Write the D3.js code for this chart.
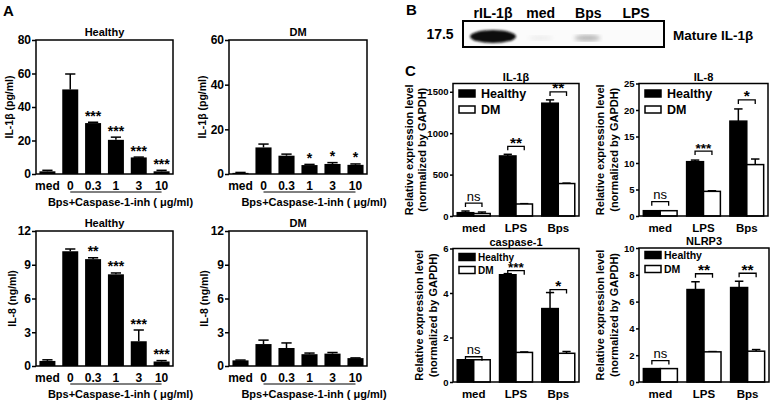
<!DOCTYPE html>
<html><head><meta charset="utf-8">
<script src="https://cdn.jsdelivr.net/npm/d3@7"></script>
<style>body{margin:0;background:#fff}</style>
</head><body>
<svg id="c" width="774" height="403" xmlns="http://www.w3.org/2000/svg"></svg>
<script>
// ---------- DATA ----------
const doseCats = ["med", "0", "0.3", "1", "3", "10"];
const doseLabel = "Bps+Caspase-1-inh ( \u03bcg/ml)";

const il1bHealthy = [1.6, 50.5, 30.4, 20.4, 9.9, 1.6];
const il1bHealthyErr = [0.6, 9.2, 0.5, 1.6, 0.2, 0.6];
const il1bHealthySig = ["", "", "***", "***", "***", "***"];
const il1bDM = [0.5, 11.9, 8.2, 4.0, 4.5, 4.1];
const il1bDMErr = [0.2, 1.5, 0.7, 0.3, 0.6, 0.4];
const il1bDMSig = ["", "", "", "*", "*", "*"];
const il8Healthy = [0.45, 10.2, 9.5, 8.15, 2.2, 0.4];
const il8HealthyErr = [0.1, 0.2, 0.12, 0.12, 1.0, 0.08];
const il8HealthySig = ["", "", "**", "***", "***", "***"];
const il8DM = [0.5, 1.95, 1.6, 1.05, 1.1, 0.7];
const il8DMErr = [0.03, 0.35, 0.45, 0.1, 0.1, 0.02];

const yTicksIl1bHealthy = [0, 20, 40, 60, 80];
const yTicksIl1bDM = [0, 20, 40, 60];
const yTicksIl8 = [0, 3, 6, 9, 12];

const blotLanes = ["rIL-1\u03b2", "med", "Bps", "LPS"];

const stimGroups = ["med", "LPS", "Bps"];
const seriesNames = ["Healthy", "DM"];
const cIl1bHealthy = [40, 725, 1362];
const cIl1bHealthyErr = [20, 20, 40];
const cIl1bDM = [30, 145, 392];
const cIl1bDMErr = [18, 4, 5];
const cIl1bSig = ["ns", "**", "**"];
const cIl8Healthy = [1.0, 10.25, 17.9];
const cIl8HealthyErr = [0, 0.3, 2.3];
const cIl8DM = [1.0, 4.65, 9.7];
const cIl8DMErr = [0, 0.12, 1.05];
const cIl8Sig = ["ns", "***", "*"];
const cCasp1Healthy = [1.0, 4.82, 3.3];
const cCasp1HealthyErr = [0, 0.05, 0.72];
const cCasp1DM = [1.0, 1.33, 1.29];
const cCasp1DMErr = [0, 0.02, 0.08];
const cCasp1Sig = ["ns", "***", "*"];
const cNlrp3Healthy = [1.0, 6.9, 7.05];
const cNlrp3HealthyErr = [0, 0.58, 0.47];
const cNlrp3DM = [1.0, 2.25, 2.3];
const cNlrp3DMErr = [0, 0.02, 0.12];
const cNlrp3Sig = ["ns", "**", "**"];

const yTicksCIl1b = [0, 500, 1000, 1500];
const yTicksCIl8 = [0, 5, 10, 15, 20, 25];
const yTicksCCasp1 = [0, 2, 4, 6];
const yTicksCNlrp3 = [0, 2, 4, 6, 8, 10];

// ---------- DRAWING ----------
const FF = "'Liberation Sans', Arial, Helvetica, sans-serif";
const svg = d3.select("#c");
svg.append("rect").attr("width", 774).attr("height", 403).attr("fill", "#fff");

function txt(g, x, y, s, size, opts = {}) {
  return g.append("text").attr("x", x).attr("y", y).text(s)
    .attr("font-family", FF).attr("font-size", size)
    .attr("font-weight", opts.weight || "bold")
    .attr("text-anchor", opts.anchor || "middle")
    .attr("fill", "#000");
}

function styleAxis(ax, size) {
  ax.select(".domain").remove();
  ax.selectAll("line").attr("stroke", "#000").attr("stroke-width", 1.5);
  ax.selectAll("text").attr("font-family", FF).attr("font-size", size)
    .attr("font-weight", "bold").attr("fill", "#000");
}

function drawA(o) {
  const g = svg.append("g");
  const x = d3.scaleBand().domain(doseCats).range([o.x0, o.x1]).paddingInner(0.3).paddingOuter(0.15);
  const y = d3.scaleLinear().domain([0, o.max]).range([o.y1, o.y0]);
  const bw = x.bandwidth();
  const rows = doseCats.map((c, i) => ({ c, v: o.vals[i], e: o.errs[i], s: o.sig[i] }));
  g.selectAll("line.eb").data(rows).join("line")
    .attr("x1", d => x(d.c) + bw / 2).attr("x2", d => x(d.c) + bw / 2)
    .attr("y1", d => y(d.v)).attr("y2", d => y(d.v + d.e))
    .attr("stroke", "#000").attr("stroke-width", 1.5);
  g.selectAll("line.cap").data(rows).join("line")
    .attr("x1", d => x(d.c) + bw / 2 - bw * 0.32).attr("x2", d => x(d.c) + bw / 2 + bw * 0.32)
    .attr("y1", d => y(d.v + d.e)).attr("y2", d => y(d.v + d.e))
    .attr("stroke", "#000").attr("stroke-width", 1.5);
  g.selectAll("rect.bar").data(rows).join("rect")
    .attr("x", d => x(d.c)).attr("width", bw)
    .attr("y", d => y(d.v)).attr("height", d => y(0) - y(d.v))
    .attr("fill", "#000");
  rows.forEach(d => { if (d.s) txt(g, x(d.c) + bw / 2, y(d.v + d.e) - 1.5, d.s, 14); });
  const ax = g.append("g").attr("transform", `translate(${o.x0},0)`)
    .call(d3.axisLeft(y).tickValues(o.ticks).tickFormat(d3.format("d")).tickSize(4).tickPadding(1));
  styleAxis(ax, 12);
  g.append("rect").attr("x", o.x0).attr("y", o.y0).attr("width", o.x1 - o.x0).attr("height", o.y1 - o.y0)
    .attr("fill", "none").attr("stroke", "#000").attr("stroke-width", 1.5);
  doseCats.forEach(c => txt(g, x(c) + bw / 2, o.y1 + 15.5, c, 12));
  g.append("line").attr("x1", x("0") + bw / 2).attr("x2", x("10") + bw / 2)
    .attr("y1", o.y1 + 18).attr("y2", o.y1 + 18).attr("stroke", "#000").attr("stroke-width", 1);
  txt(g, (o.x0 + o.x1) / 2 + 16, o.y1 + 32, doseLabel, 11);
  txt(g, (o.x0 + o.x1) / 2, o.y0 - 4.5, o.title, 11);
  g.append("text").attr("transform", `translate(${o.ylx},${(o.y0 + o.y1) / 2}) rotate(-90)`)
    .attr("text-anchor", "middle").attr("dominant-baseline", "central")
    .attr("font-family", FF).attr("font-size", 10.5).attr("font-weight", "bold").text(o.ylabel);
}

drawA({ x0: 36, x1: 173, y0: 40, y1: 174, max: 80, ticks: yTicksIl1bHealthy, vals: il1bHealthy, errs: il1bHealthyErr, sig: il1bHealthySig, title: "Healthy", ylabel: "IL-1\u03b2 (pg/ml)", ylx: 9 });
drawA({ x0: 229, x1: 367, y0: 40, y1: 174, max: 60, ticks: yTicksIl1bDM, vals: il1bDM, errs: il1bDMErr, sig: il1bDMSig, title: "DM", ylabel: "IL-1\u03b2 (pg/ml)", ylx: 202 });
drawA({ x0: 36, x1: 173, y0: 231, y1: 366, max: 12, ticks: yTicksIl8, vals: il8Healthy, errs: il8HealthyErr, sig: il8HealthySig, title: "Healthy", ylabel: "IL-8 (ng/ml)", ylx: 12 });
drawA({ x0: 229, x1: 367, y0: 231, y1: 366, max: 12, ticks: yTicksIl8, vals: il8DM, errs: il8DMErr, sig: ["", "", "", "", "", ""], title: "DM", ylabel: "IL-8 (ng/ml)", ylx: 204 });

txt(svg, 3, 16, "A", 15, { anchor: "start" });
txt(svg, 406, 15, "B", 15, { anchor: "start" });
txt(svg, 405, 76, "C", 15, { anchor: "start" });

// ---------- Panel B (blot) ----------
(function () {
  const g = svg.append("g");
  const defs = svg.append("defs");
  defs.append("filter").attr("id", "blur1").append("feGaussianBlur").attr("stdDeviation", 1.2);
  defs.append("filter").attr("id", "blur2").append("feGaussianBlur").attr("stdDeviation", 2);
  const lx = d3.scalePoint().domain(blotLanes).range([493, 636]);
  blotLanes.forEach(l => txt(g, lx(l), 18, l, 14));
  g.append("rect").attr("x", 463).attr("y", 21).attr("width", 201).attr("height", 26)
    .attr("fill", "#fbfbfb").attr("stroke", "#000").attr("stroke-width", 2);
  g.append("ellipse").attr("cx", lx("rIL-1\u03b2")).attr("cy", 36.5).attr("rx", 23).attr("ry", 6.5)
    .attr("fill", "#0c0c0c").attr("filter", "url(#blur1)");
  g.append("ellipse").attr("cx", lx("Bps") - 1).attr("cy", 38).attr("rx", 13).attr("ry", 3)
    .attr("fill", "#777").attr("opacity", 0.55).attr("filter", "url(#blur2)");
  g.append("ellipse").attr("cx", lx("med")).attr("cy", 38).attr("rx", 12).attr("ry", 2.5)
    .attr("fill", "#ccc").attr("opacity", 0.3).attr("filter", "url(#blur2)");
  txt(g, 440, 39, "17.5", 14);
  txt(g, 673, 40, "Mature IL-1\u03b2", 13.5, { anchor: "start" });
})();

// ---------- Panel C ----------
function drawC(o) {
  const g = svg.append("g");
  const x = d3.scaleBand().domain(stimGroups).range([o.x0, o.x1]).paddingInner(0.22).paddingOuter(0.1);
  const xs = d3.scaleBand().domain(seriesNames).range([0, x.bandwidth()]);
  const y = d3.scaleLinear().domain([0, o.max]).range([o.y1, o.y0]);
  const bw = xs.bandwidth();
  const rows = [];
  stimGroups.forEach((gname, i) => {
    rows.push({ g: gname, s: "Healthy", v: o.h[i], e: o.he[i] });
    rows.push({ g: gname, s: "DM", v: o.d[i], e: o.de[i] });
  });
  const cx = d => x(d.g) + xs(d.s) + bw / 2;
  const er = rows.filter(d => d.e > 0);
  g.selectAll("line.eb").data(er).join("line")
    .attr("x1", cx).attr("x2", cx).attr("y1", d => y(d.v)).attr("y2", d => y(d.v + d.e))
    .attr("stroke", "#000").attr("stroke-width", 1.5);
  g.selectAll("line.cap").data(er).join("line")
    .attr("x1", d => cx(d) - bw * 0.25).attr("x2", d => cx(d) + bw * 0.25)
    .attr("y1", d => y(d.v + d.e)).attr("y2", d => y(d.v + d.e))
    .attr("stroke", "#000").attr("stroke-width", 1.5);
  g.selectAll("rect.bar").data(rows).join("rect")
    .attr("x", d => x(d.g) + xs(d.s)).attr("width", bw)
    .attr("y", d => y(d.v)).attr("height", d => y(0) - y(d.v))
    .attr("fill", d => d.s === "Healthy" ? "#000" : "#fff")
    .attr("stroke", "#000").attr("stroke-width", 1.5);
  stimGroups.forEach((gname, i) => {
    const top = Math.max(o.h[i] + o.he[i], o.d[i] + o.de[i]);
    const by = y(top) - o.off;
    const xa = x(gname) + xs("Healthy") + bw / 2, xb = x(gname) + xs("DM") + bw / 2;
    g.append("path").attr("d", `M${xa},${by + 4}V${by}H${xb}V${by + 4}`)
      .attr("fill", "none").attr("stroke", "#000").attr("stroke-width", 1.3);
    if (o.sig[i] === "ns") txt(g, (xa + xb) / 2, by - 2.5, "ns", 13, { weight: "normal" });
    else txt(g, (xa + xb) / 2, by + 1.5, o.sig[i], o.sig[i].length === 3 ? 13.5 : 15.5);
  });
  const ax = g.append("g").attr("transform", `translate(${o.x0},0)`)
    .call(d3.axisLeft(y).tickValues(o.ticks).tickFormat(d3.format("d")).tickSize(3).tickPadding(1.5));
  styleAxis(ax, 9.5);
  g.append("rect").attr("x", o.x0).attr("y", o.y0).attr("width", o.x1 - o.x0).attr("height", o.y1 - o.y0)
    .attr("fill", "none").attr("stroke", "#000").attr("stroke-width", 1.5);
  stimGroups.forEach(gname => txt(g, x(gname) + x.bandwidth() / 2, o.y1 + 16, gname, 11.5));
  txt(g, (o.x0 + o.x1) / 2, o.y0 - 3, o.title, 11);
  seriesNames.forEach((s, i) => {
    const ly = o.y0 + o.legY[i];
    g.append("rect").attr("x", o.x0 + 6).attr("y", ly - 3.5).attr("width", 16).attr("height", 7)
      .attr("fill", s === "Healthy" ? "#000" : "#fff").attr("stroke", "#000").attr("stroke-width", 1.5);
    txt(g, o.x0 + o.legTx, ly + o.legFs * 0.36, s, o.legFs, { anchor: "start" });
  });
  const cy = (o.y0 + o.y1) / 2;
  ["Relative expression level", "(normalized by GAPDH)"].forEach((l, i) => {
    g.append("text").attr("transform", `translate(${o.x0 - o.yl[i]},${cy}) rotate(-90)`)
      .attr("text-anchor", "middle").attr("dominant-baseline", "central")
      .attr("font-family", FF).attr("font-size", 11).attr("font-weight", "bold").text(l);
  });
}

drawC({ x0: 453, x1: 579, y0: 83.5, y1: 216, max: 1600, ticks: yTicksCIl1b, h: cIl1bHealthy, he: cIl1bHealthyErr, d: cIl1bDM, de: cIl1bDMErr, sig: cIl1bSig, off: 8, title: "IL-1\u03b2", legY: [10, 26], legFs: 12.5, legTx: 28, yl: [44, 31] });
drawC({ x0: 639, x1: 768, y0: 83.5, y1: 216, max: 25, ticks: yTicksCIl8, h: cIl8Healthy, he: cIl8HealthyErr, d: cIl8DM, de: cIl8DMErr, sig: cIl8Sig, off: 9, title: "IL-8", legY: [10, 26], legFs: 12.5, legTx: 28, yl: [39, 25] });
drawC({ x0: 453, x1: 579, y0: 248.5, y1: 382, max: 6, ticks: yTicksCCasp1, h: cCasp1Healthy, he: cCasp1HealthyErr, d: cCasp1DM, de: cCasp1DMErr, sig: cCasp1Sig, off: 3, title: "caspase-1", legY: [8.5, 21.5], legFs: 10, legTx: 25, yl: [34, 20] });
drawC({ x0: 639, x1: 769, y0: 248, y1: 382, max: 10, ticks: yTicksCNlrp3, h: cNlrp3Healthy, he: cNlrp3HealthyErr, d: cNlrp3DM, de: cNlrp3DMErr, sig: cNlrp3Sig, off: 8, title: "NLRP3", legY: [7, 21], legFs: 10.5, legTx: 25, yl: [39, 25] });
</script>
</body></html>
